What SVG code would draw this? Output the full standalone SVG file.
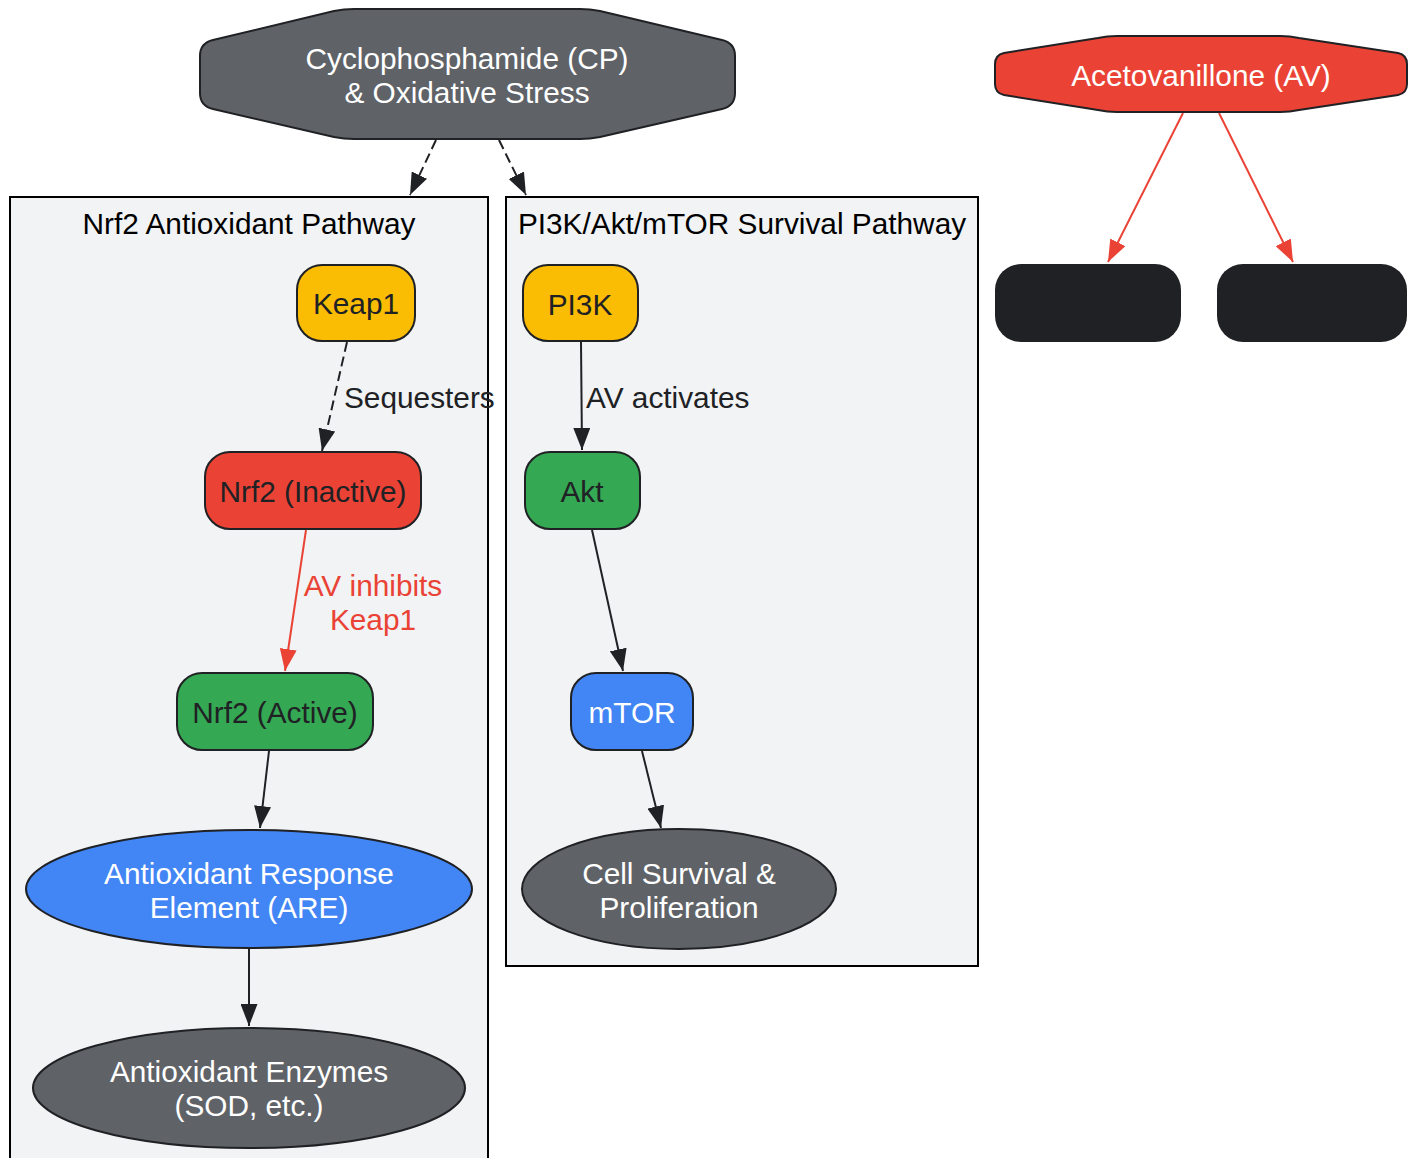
<svg xmlns="http://www.w3.org/2000/svg" width="1418" height="1158" viewBox="0 0 1418 1158">
<style>
text { font-family: "Liberation Sans", Arial, sans-serif; font-size: 29.8px; text-anchor: middle; }
.dk { fill: #202124; }
.wt { fill: #ffffff; }
.blk { fill: #000000; }
.cl { fill: #f1f3f4; stroke: #000000; stroke-width: 2; }
.nd { stroke: #202124; stroke-width: 2; }
.e { fill: none; stroke: #202124; stroke-width: 2; }
.er { fill: none; stroke: #ea4335; stroke-width: 2; }
.dash { stroke-dasharray: 10,5; }
</style>
<defs>
<marker id="ab" viewBox="0 0 22 17" refX="22" refY="8.5" markerWidth="22" markerHeight="17" markerUnits="userSpaceOnUse" orient="auto">
<path d="M0,0 L22,8.5 L0,17 z" fill="#202124"/>
</marker>
<marker id="ar" viewBox="0 0 22 17" refX="22" refY="8.5" markerWidth="22" markerHeight="17" markerUnits="userSpaceOnUse" orient="auto">
<path d="M0,0 L22,8.5 L0,17 z" fill="#ea4335"/>
</marker>
</defs>
<rect width="1418" height="1158" fill="#ffffff"/>
<g id="cluster_nrf2">
<rect class="cl" x="10" y="197" width="478" height="975"/>
<text class="blk" x="249" y="234">Nrf2 Antioxidant Pathway</text>
</g>
<g id="cluster_pi3k">
<rect class="cl" x="506" y="197" width="472" height="769"/>
<text class="blk" x="742" y="234">PI3K/Akt/mTOR Survival Pathway</text>
</g>
<g id="connectors">
<path class="e dash" d="M436,140 L410,195" marker-end="url(#ab)"/>
<path class="e dash" d="M499,140 L526,195" marker-end="url(#ab)"/>
<path class="e dash" d="M347,342 L322,451" marker-end="url(#ab)"/>
<text class="dk" x="344" y="408" style="text-anchor:start">Sequesters</text>
<path class="er" d="M306,530 L285,671" marker-end="url(#ar)"/>
<text x="373" y="596" fill="#ea4335">AV inhibits</text>
<text x="373" y="630" fill="#ea4335">Keap1</text>
<path class="e" d="M269,751 L260,828" marker-end="url(#ab)"/>
<path class="e" d="M249,949 L249,1026" marker-end="url(#ab)"/>
<path class="e" d="M581,342 L582,450" marker-end="url(#ab)"/>
<text class="dk" x="586" y="408" style="text-anchor:start">AV activates</text>
<path class="e" d="M592,530 L623,671" marker-end="url(#ab)"/>
<path class="e" d="M642,751 L661,828" marker-end="url(#ab)"/>
<path class="er" d="M1183,113 L1108,262" marker-end="url(#ar)"/>
<path class="er" d="M1219,113 L1293,262" marker-end="url(#ar)"/>
</g>
<g id="node_cp">
<path class="nd" fill="#5f6368" stroke-linejoin="round" d="M354,9 L580,9 Q590,9 600,11 L722,40 Q735,43 735,56 L735,93 Q735,106 722,109 L600,137 Q590,139 580,139 L354,139 Q344,139 334,137 L213,109 Q200,106 200,93 L200,56 Q200,43 213,40 L334,11 Q344,9 354,9 Z"/>
<text class="wt" x="467" y="69">Cyclophosphamide (CP)</text>
<text class="wt" x="467" y="103">&amp; Oxidative Stress</text>
</g>
<g id="node_av">
<path class="nd" fill="#ea4335" stroke-linejoin="round" d="M1117,36 L1280,36 Q1290,36 1299,38 L1398,53 Q1407,55 1407,64 L1407,84 Q1407,93 1398,95 L1299,110 Q1290,112 1280,112 L1117,112 Q1107,112 1098,110 L1004,95 Q995,93 995,84 L995,64 Q995,55 1004,53 L1098,38 Q1107,36 1117,36 Z"/>
<text class="wt" x="1201" y="86">Acetovanillone (AV)</text>
</g>
<g id="node_dark1">
<rect x="995" y="264" width="186" height="78" rx="26" fill="#202124"/>
</g>
<g id="node_dark2">
<rect x="1217" y="264" width="190" height="78" rx="26" fill="#202124"/>
</g>
<g id="node_keap1">
<rect class="nd" x="297" y="265" width="118" height="76" rx="25" fill="#fbbc04"/>
<text class="dk" x="356" y="314">Keap1</text>
</g>
<g id="node_nrf2_inactive">
<rect class="nd" x="205" y="452" width="216" height="77" rx="25" fill="#ea4335"/>
<text class="dk" x="313" y="502">Nrf2 (Inactive)</text>
</g>
<g id="node_nrf2_active">
<rect class="nd" x="177" y="673" width="196" height="77" rx="25" fill="#34a853"/>
<text class="dk" x="275" y="723">Nrf2 (Active)</text>
</g>
<g id="node_are">
<ellipse class="nd" cx="249" cy="889" rx="223" ry="59" fill="#4285f4"/>
<text class="wt" x="249" y="884">Antioxidant Response</text>
<text class="wt" x="249" y="918">Element (ARE)</text>
</g>
<g id="node_enzymes">
<ellipse class="nd" cx="249" cy="1088" rx="216" ry="60" fill="#5f6368"/>
<text class="wt" x="249" y="1082">Antioxidant Enzymes</text>
<text class="wt" x="249" y="1116">(SOD, etc.)</text>
</g>
<g id="node_pi3k">
<rect class="nd" x="523" y="265" width="115" height="76" rx="25" fill="#fbbc04"/>
<text class="dk" x="580" y="315">PI3K</text>
</g>
<g id="node_akt">
<rect class="nd" x="525" y="452" width="115" height="77" rx="25" fill="#34a853"/>
<text class="dk" x="582" y="502">Akt</text>
</g>
<g id="node_mtor">
<rect class="nd" x="571" y="673" width="122" height="77" rx="25" fill="#4285f4"/>
<text class="wt" x="632" y="723">mTOR</text>
</g>
<g id="node_cell">
<ellipse class="nd" cx="679" cy="889" rx="157" ry="60" fill="#5f6368"/>
<text class="wt" x="679" y="884">Cell Survival &amp;</text>
<text class="wt" x="679" y="918">Proliferation</text>
</g>
</svg>
